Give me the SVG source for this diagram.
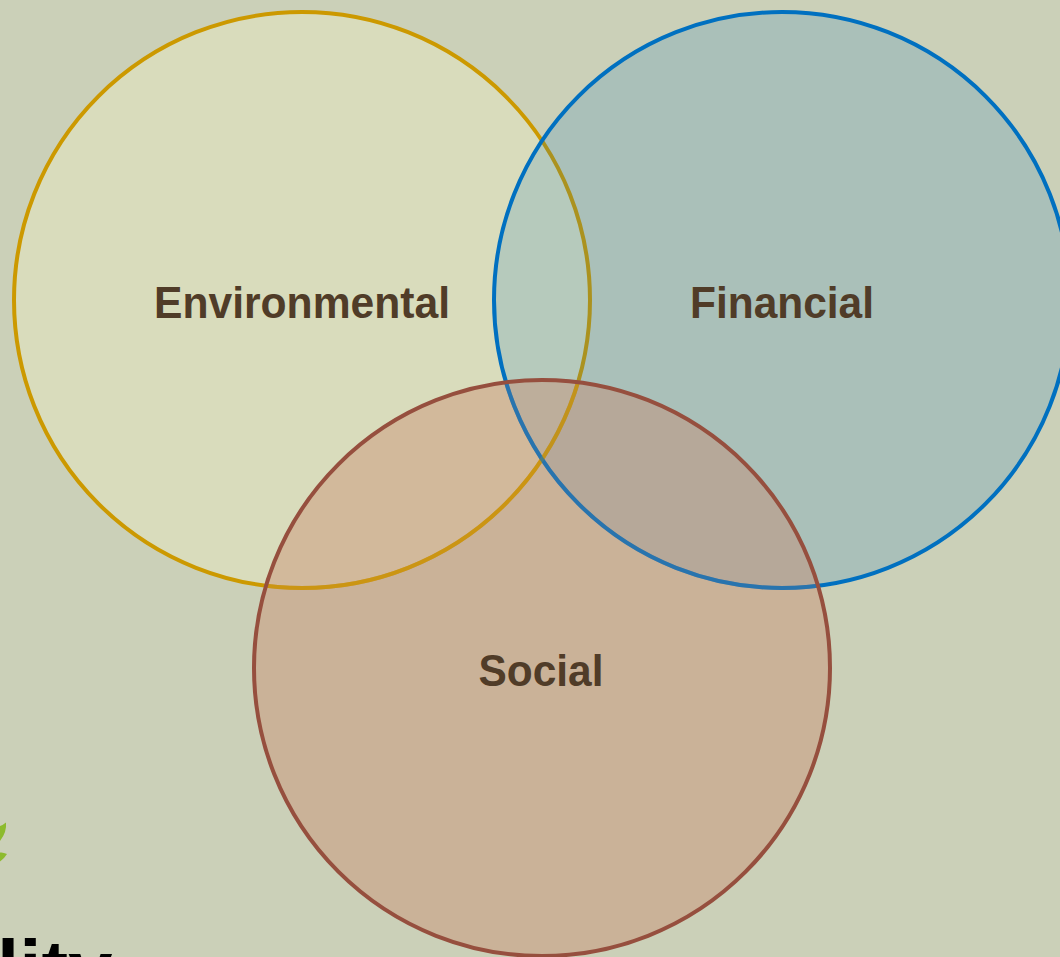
<svg xmlns="http://www.w3.org/2000/svg" width="1060" height="957" viewBox="0 0 1060 957">
<style>
.c{stroke-width:4}
.l{font-family:"Liberation Sans",Arial,sans-serif;font-weight:700;font-size:44px;fill:#503c28;text-anchor:middle}
.e{fill:none;stroke:#cc9900;stroke-opacity:.55}
.f{fill:none;stroke:#0070c0;stroke-opacity:.5}
</style>
<defs>
<clipPath id="inSocial"><circle cx="542" cy="668" r="288"/></clipPath>
</defs>
<rect width="1060" height="957" fill="#cbd0b8"/>
<g id="logo-fragment">
<path d="M0 826Q3 825 6 822.500Q7 832 0 841Z" fill="#8dbb2e"/>
<path d="M0 852.500Q3 852 7 854Q4 859 0 861.500Z" fill="#8dbb2e"/>
<text x="-3" y="996" font-family="'Liberation Sans',Arial,sans-serif" font-weight="700" font-size="80" fill="#000">lity</text>
</g>
<g id="environmental">
<circle class="c" cx="302" cy="300" r="288" fill="#ffffc8" fill-opacity=".27" stroke="#cc9900"/>
</g>
<g id="financial">
<circle class="c" cx="782" cy="300" r="288" fill="#0070c0" fill-opacity=".16" stroke="#0070c0"/>
</g>
<g id="social">
<circle cx="542" cy="668" r="288" fill="#c88568" fill-opacity=".4"/>
<g clip-path="url(#inSocial)">
<circle class="c e" cx="302" cy="300" r="288"/>
<circle class="c f" cx="782" cy="300" r="288"/>
</g>
<circle class="c" cx="542" cy="668" r="288" fill="none" stroke="#964f3e"/>
</g>
<g id="labels">
<text class="l" x="302" y="318" textLength="296" lengthAdjust="spacingAndGlyphs">Environmental</text>
<text class="l" x="782" y="318" textLength="184" lengthAdjust="spacingAndGlyphs">Financial</text>
<text class="l" x="541" y="686" textLength="125" lengthAdjust="spacingAndGlyphs">Social</text>
</g>
<g id="connectors"/>
</svg>
